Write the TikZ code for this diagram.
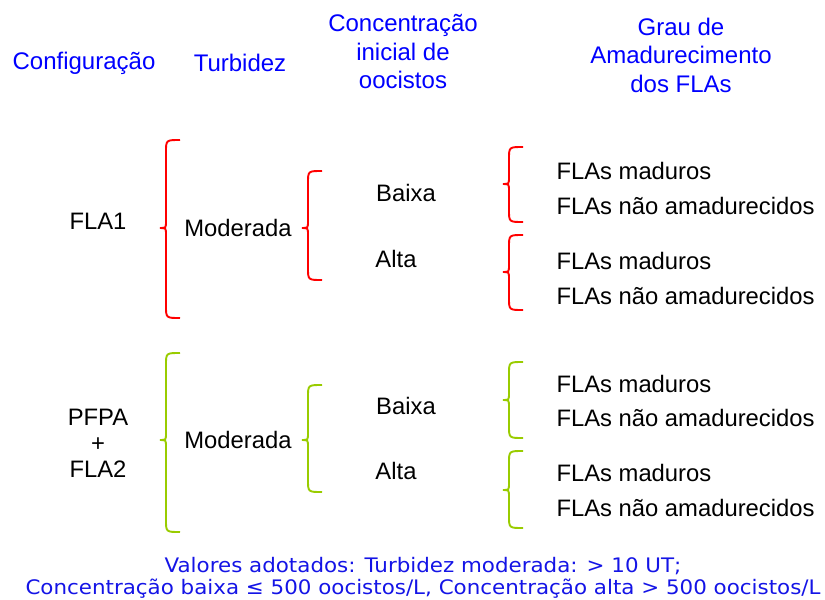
\documentclass[tikz,border=0pt]{standalone}
\usepackage{fontspec}
\setmainfont{Liberation Sans}
\newfontfamily\notefont[FakeStretch=1.07]{DejaVu Sans}
\definecolor{headblue}{RGB}{0,0,255}
\definecolor{noteblue}{RGB}{20,20,230}
\definecolor{bred}{RGB}{255,0,0}
\definecolor{bgreen}{RGB}{153,204,0}
% curly brace: x of tip, top, tip y, bottom, colour
\newcommand{\kbrace}[5]{%
\draw[#5,line width=1.9pt] (#1+20,#2) .. controls (#1+6,#2) .. (#1+6,#2+12) -- (#1+6,#3-7) .. controls (#1+6,#3) .. (#1,#3) .. controls (#1+6,#3) .. (#1+6,#3+7) -- (#1+6,#4-12) .. controls (#1+6,#4) .. (#1+20,#4);}
\tikzset{
  head/.style={text=headblue,font=\fontsize{24}{28.5}\selectfont,align=center},
  lbl/.style={font=\fontsize{23.8}{28}\selectfont},
  note/.style={text=noteblue,font=\notefont\fontsize{20}{22}\selectfont,align=center,inner sep=1pt}
}
\begin{document}
\begin{tikzpicture}[x=1pt,y=-1pt]
\useasboundingbox (0,0) rectangle (825,600);
% headers
\node[head] (hconf) at (84,63) {Configuração};
\node[head] (hturb) at (240,63) {Turbidez};
\node[head] (hconc) at (403,52) {Concentração\\inicial de\\oocistos};
\node[head] (hgrau) at (681,55) {Grau de\\Amadurecimento\\dos FLAs};
% FLA1
\kbrace{160}{140}{228}{318}{bred}
\kbrace{302}{171}{228}{280}{bred}
\kbrace{503}{147}{184}{222}{bred}
\kbrace{503}{235}{272}{310}{bred}
\node[lbl] (fla1) at (98,221) {FLA1};
\node[lbl] (mod1) at (238,228) {Moderada};
\node[lbl] (baixa1) at (406,193) {Baixa};
\node[lbl] (alta1) at (396,259) {Alta};
\node[lbl,anchor=west] (m1) at (553,171) {FLAs maduros};
\node[lbl,anchor=west] (n1) at (553,206) {FLAs não amadurecidos};
\node[lbl,anchor=west] (m2) at (553,261) {FLAs maduros};
\node[lbl,anchor=west] (n2) at (553,296) {FLAs não amadurecidos};
% PFPA + FLA2
\kbrace{160}{353}{440}{532}{bgreen}
\kbrace{302}{385}{440}{492}{bgreen}
\kbrace{503}{362}{400}{438}{bgreen}
\kbrace{503}{451}{490}{528}{bgreen}
\node[lbl,align=center] (pfpa) at (98,443) {PFPA\\[-2pt]+\\[-2pt]FLA2};
\node[lbl] (mod2) at (238,440) {Moderada};
\node[lbl] (baixa2) at (406,406) {Baixa};
\node[lbl] (alta2) at (396,471) {Alta};
\node[lbl,anchor=west] (m3) at (553,384) {FLAs maduros};
\node[lbl,anchor=west] (n3) at (553,418) {FLAs não amadurecidos};
\node[lbl,anchor=west] (m4) at (553,473) {FLAs maduros};
\node[lbl,anchor=west] (n4) at (553,508) {FLAs não amadurecidos};
% note
\node[note] (nota) at (423,578) {Valores adotados: Turbidez moderada: > 10 UT;\\Concentração baixa ≤ 500 oocistos/L, Concentração alta > 500 oocistos/L};
\end{tikzpicture}
\end{document}
